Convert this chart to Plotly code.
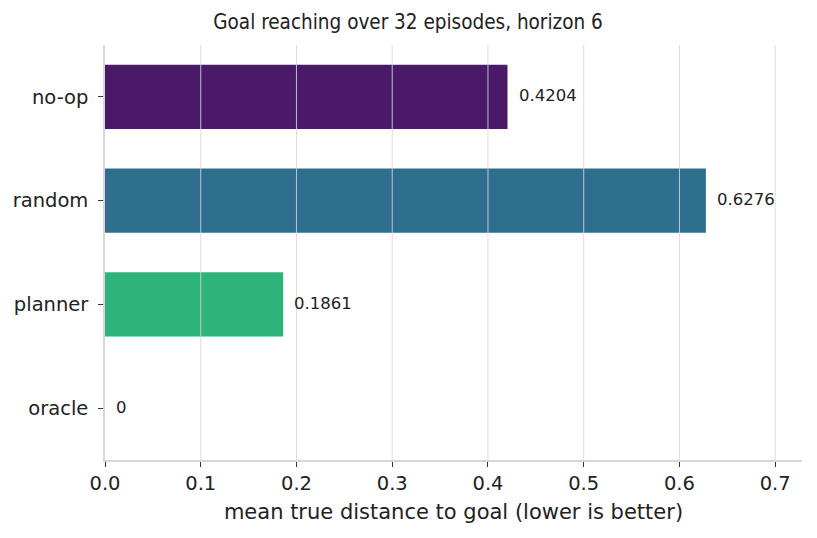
import plotly.graph_objects as go

# data
methods = ["no-op", "random", "planner", "oracle"]
distances = [0.4204, 0.6276, 0.1861, 0.0]
labels = ["0.4204", "0.6276", "0.1861", "0"]
colors = ["#4a1a68", "#2e6e8e", "#2db37b", "#fde725"]
x_ticks = [0.0, 0.1, 0.2, 0.3, 0.4, 0.5, 0.6, 0.7]

fig = go.Figure(go.Bar(
    x=distances,
    y=methods,
    orientation="h",
    width=0.62,
    marker=dict(color=colors, line=dict(width=0)),
    hoverinfo="x+y",
))

# value labels just right of each bar end
for m, d, lab in zip(methods, distances, labels):
    fig.add_annotation(
        x=d, y=m, text=lab, showarrow=False,
        xanchor="left", xshift=9, yshift=1,
        font=dict(family="DejaVu Sans", size=16.5, color="#222222"),
    )

# vertical grid drawn on top of the bars, like the original
for t in x_ticks[1:]:
    fig.add_shape(
        type="line", xref="x", yref="paper",
        x0=t, x1=t, y0=0, y1=1,
        line=dict(color="rgba(215,215,215,0.85)", width=1),
        layer="above",
    )

# page has an 8px body margin, so the figure is a bit smaller than the window
fig.update_layout(
    width=809,
    height=530,
    paper_bgcolor="white",
    plot_bgcolor="white",
    margin=dict(l=97, r=15, t=37, b=78, autoexpand=False),
    font=dict(family="DejaVu Sans", size=19, color="#222222"),
    title=dict(
        text="Goal reaching over 32 episodes, horizon 6",
        x=0.4945, xanchor="center", xref="container",
        y=0.973, yanchor="middle", yref="container",
        font=dict(family="DejaVu Sans Condensed", size=20.5, color="#222222"),
    ),
    showlegend=False,
)

fig.update_xaxes(
    range=[0, 0.728],
    tickvals=x_ticks,
    tickformat=".1f",
    showgrid=False,
    showline=True,
    linecolor="#d6d6d6",
    linewidth=1.5,
    ticks="outside",
    ticklen=5,
    tickcolor="#333333",
    zeroline=False,
    automargin=False,
    title=dict(text="mean true distance to goal (lower is better)", font=dict(size=21), standoff=10),
    tickfont=dict(size=19.5),
)

fig.update_yaxes(
    categoryorder="array",
    categoryarray=methods,
    range=[3.5, -0.5],
    showgrid=False,
    showline=True,
    linecolor="#d6d6d6",
    linewidth=1.5,
    ticks="outside",
    ticklen=5,
    tickcolor="#333333",
    ticklabelstandoff=6,
    zeroline=False,
    automargin=False,
    tickfont=dict(size=19.5),
)

fig.write_html("out.html")
